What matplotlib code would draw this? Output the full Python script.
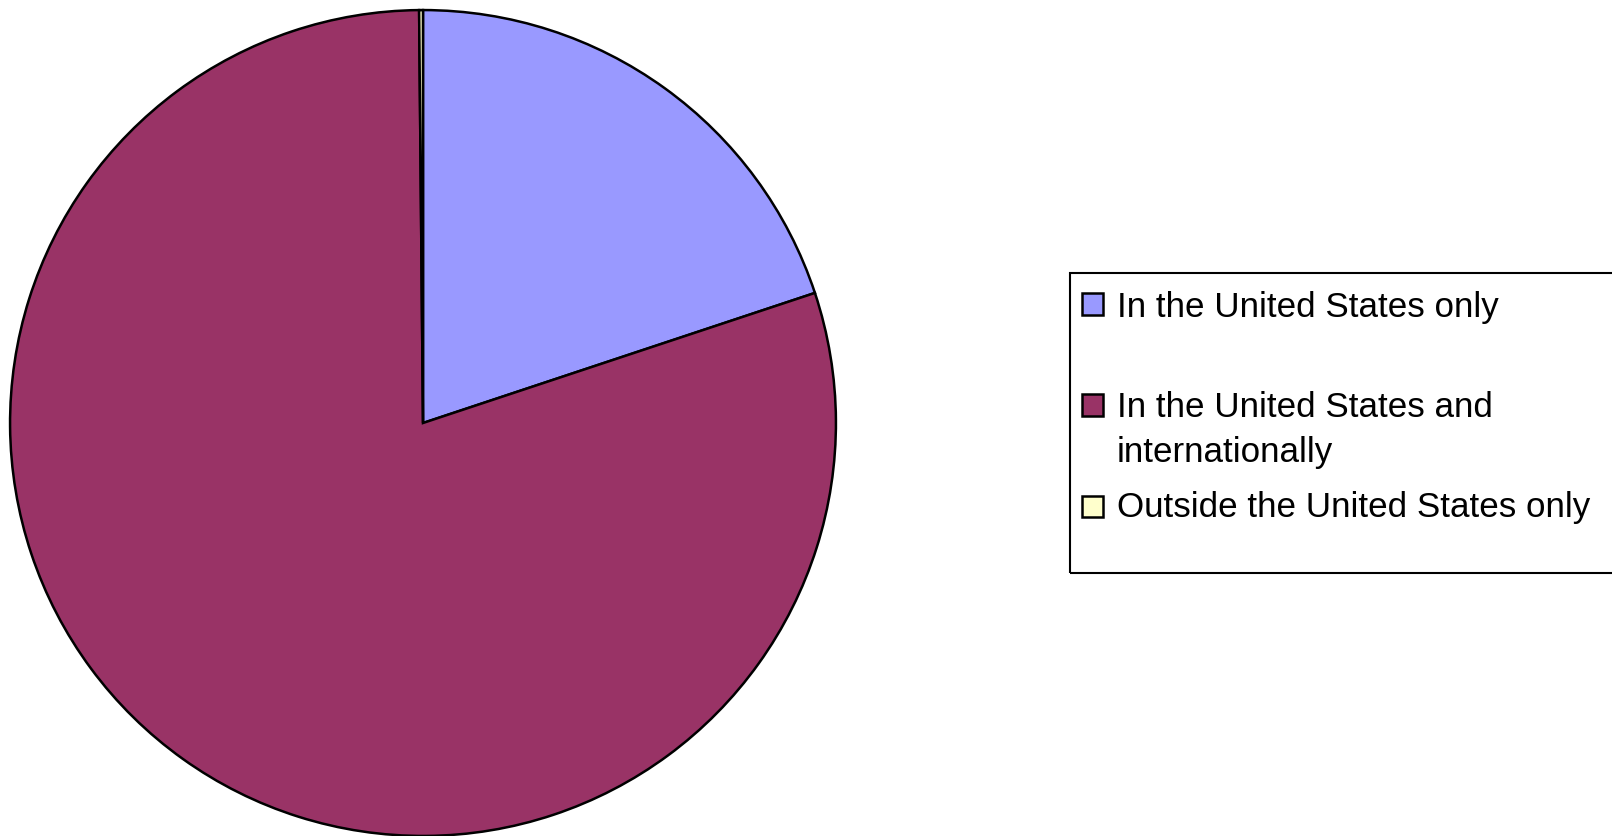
import matplotlib.pyplot as plt
from matplotlib.patches import Rectangle

plt.rcParams['font.family'] = ['Liberation Sans', 'DejaVu Sans']

labels = ['In the United States only',
          'In the United States and\ninternationally',
          'Outside the United States only']
shares = [19.9, 79.95, 0.15]
colors = ['#9999FF', '#993366', '#FFFFCC']

W, H = 1612, 836
fig = plt.figure(figsize=(W / 100, H / 100), dpi=100)

# pie: centre (423, 423) px from top-left, radius 415 px
cx, cy, r = 423, 423, 415
ax = fig.add_axes([(cx - r) / W, (H - cy - r) / H, 2 * r / W, 2 * r / H])
ax.pie(shares, colors=colors, startangle=90, counterclock=False, radius=1,
       wedgeprops=dict(edgecolor='black', linewidth=1.8))
ax.set_xlim(-1.005, 1.005)
ax.set_ylim(-1.005, 1.005)
ax.set_aspect('equal')
ax.axis('off')

# legend drawn by hand in pixel coords (y from top)
def px(x, y):
    return x / W, 1 - y / H

x0, y0 = px(1070, 573)
fig.patches.append(Rectangle((x0, y0), (W + 10 - 1070) / W, 300 / H,
                             transform=fig.transFigure, fill=False,
                             edgecolor='black', linewidth=1.5, clip_on=False))

box_centers = [304, 405, 506]
baselines = [317, 417, 517]
for lab, col, yc, yb in zip(labels, colors, box_centers, baselines):
    bx, by = px(1082, yc + 10.5)
    fig.patches.append(Rectangle((bx, by), 21 / W, 21 / H,
                                 transform=fig.transFigure, facecolor=col,
                                 edgecolor='black', linewidth=1.8))
    for i, line in enumerate(lab.split('\n')):
        tx, ty = px(1117, yb + 45 * i)
        fig.text(tx, ty, line, fontsize=25.2, va='baseline', ha='left')

fig.savefig('out.png', dpi=100)
